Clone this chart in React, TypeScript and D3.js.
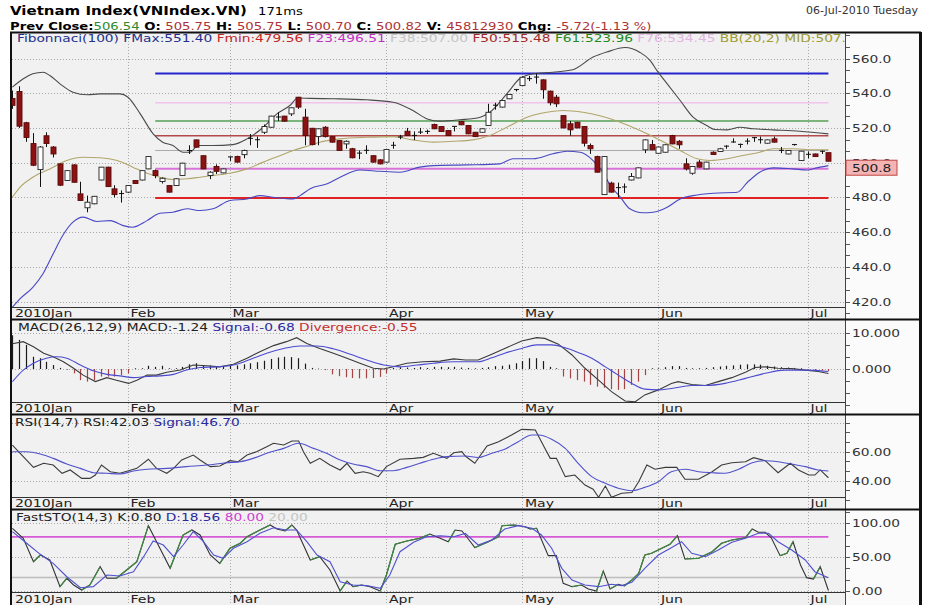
import React from "react";
import * as d3 from "d3";

const FONT = "'DejaVu Sans', Verdana, sans-serif";

// trading days, index 0 = first candle on the chart
const monthStart = [0, 17, 32, 55, 75, 95, 117];
const monthName = ["2010Jan", "Feb", "Mar", "Apr", "May", "Jun", "Jul"];

const open = [537, 541, 523, 511, 496, 515.5, 509, 499.3, 489.7, 498.7, 482, 474, 476.3, 490, 497.4, 484.9, 482.2, 483, 489.7, 490,
  496.4, 495.4, 489.1, 486.8, 486.8, 492.6, 506.8, 513.1, 504, 492.6, 497.8, 494.1, 503.1, 503.5, 504.6, 513.8, 513, 517.5, 520.4, 526,
  526.8, 528.1, 537.7, 526.2, 519.8, 515, 520.4, 515, 512.7, 510.8, 508, 505.3, 507, 504, 501.6, 500.3, 509.8, 514.6, 518.1, 515.5,
  517.4, 517.8, 522, 520.8, 518.5, 520.7, 523.7, 521.4, 517.5, 517.5, 521.4, 532.9, 532, 536.8, 541.9, 544.4, 548.2, 549.1, 547.7, 541.2,
  537.7, 527.1, 522.4, 523.3, 520.8, 509.9, 503.5, 481.6, 488.2, 485.4, 485.8, 490, 491.2, 507.4, 510.4, 505.4, 506, 515.6, 512.3, 499.3,
  493.9, 500.3, 496.4, 506, 506.4, 509.5, 511.7, 510.3, 512.2, 514.2, 513, 511.2, 513.7, 506.9, 505, 510.2, 501.2, 504.6, 505, 506.5, 505.75];
const high = [541.5, 544, 523.5, 517, 509.5, 517.5, 509.5, 499.5, 495.5, 499, 489, 481, 480.8, 497.5, 497.6, 487, 484, 487, 490, 495.6,
  503.7, 496, 491.5, 487, 490.9, 499.9, 510, 513.3, 504.2, 495, 499, 496.6, 503.5, 504, 507.5, 516.5, 515, 522, 527, 529,
  527, 531.8, 537.9, 531, 520, 519.7, 521, 515.2, 513, 512.8, 508.5, 507, 510, 504.3, 502, 508, 512, 516, 520, 518,
  520, 519, 522.5, 521, 518.7, 521, 524, 521.6, 517.7, 519.7, 533.9, 534.5, 536, 539.5, 542.5, 549.8, 550, 551.4, 548, 541.5,
  539, 527.3, 524, 523.5, 521, 511, 504, 503.7, 489, 488.5, 488, 494, 497.2, 513.5, 513, 509.2, 510.5, 516, 513, 502.5,
  498, 501.5, 500.5, 506.5, 508.5, 510, 514, 511, 514, 514.8, 515, 513.3, 515, 509, 507.2, 510.8, 506.8, 506.5, 505.2, 507, 505.75];
const low = [531, 520, 512, 498, 486, 509, 503, 486.5, 489.5, 488.5, 478, 471.4, 476, 489.8, 486, 480, 477, 482.5, 487.8, 489.8,
  496.2, 491, 488, 482.8, 486.6, 492.4, 505, 508.7, 496.2, 490.5, 493.5, 493.9, 501, 500, 502.5, 510, 508.5, 516.5, 520.2, 524,
  523.7, 526.9, 531, 510, 510, 510, 514.5, 511.5, 506.8, 508, 502.5, 502, 505, 500, 499, 500, 508, 513.5, 515.4, 513,
  516.5, 516.5, 519.3, 517.7, 515.4, 518, 521.6, 516.4, 514.8, 517.3, 521.2, 530.5, 531.8, 536.6, 541, 544.2, 547, 545.5, 536.8, 533,
  532, 519.8, 515.6, 519.8, 509.3, 505, 494.3, 481.4, 482.8, 480, 482.5, 489.8, 491, 505.5, 507.2, 505.2, 505.8, 510.6, 508, 495.5,
  493, 497.2, 496.2, 504.5, 506.2, 508, 511.5, 508.5, 510.5, 512, 511, 511, 511.6, 505.5, 504.8, 509.8, 501, 502.5, 503.3, 505, 500.7];
const close = [533, 521, 514.5, 498.5, 509, 511, 505, 487, 495.4, 488.7, 478.2, 477.2, 480.6, 497.4, 486.2, 481.6, 482, 486.8, 488, 495.4,
  503.5, 492.6, 491, 483, 490.7, 499.7, 507, 508.9, 496.4, 494.5, 495, 496.4, 503.3, 500.3, 507, 514, 513.2, 520.8, 526.8, 526.3,
  523.9, 531.6, 532, 515.6, 510.4, 519.5, 515, 511.8, 507, 512.3, 502.8, 505.5, 507.1, 500.3, 499.3, 507.6, 510, 514.8, 515.6, 515.7,
  517.6, 518, 519.5, 517.9, 515.6, 520.9, 521.8, 516.6, 515, 519.5, 529, 533.1, 535.8, 539.3, 542.1, 549.2, 548.4, 549.3, 542, 534.5,
  533.9, 520, 518.9, 520, 511.2, 508, 494.5, 503.5, 483, 485.6, 486, 492, 497, 513.1, 507.4, 509, 510.3, 510.8, 510.3, 496.4,
  497.8, 497.4, 500.3, 504.7, 508, 508.7, 511.9, 510.5, 512.4, 514.4, 513.2, 513.1, 511.8, 507.1, 507, 510.4, 506.6, 504.8, 503.5, 506.54, 500.82];

// Bollinger(20,2): [day, value]
const bbUpper = [[0, 543.5], [1.6, 548.3], [3, 551.2], [4.5, 552.1], [5.5, 550.2], [7, 545.4], [8.9, 540.6], [11, 539.1], [12.9, 539.6],
  [15.8, 539.6], [17, 537.7], [18.8, 528.1], [20.7, 516.6], [22.1, 511.8], [23.6, 509.9], [25.1, 506], [26.1, 506], [27.3, 509.9],
  [29.5, 509.9], [32.4, 510.4], [34.5, 513.7], [36.9, 520.4], [38.9, 528.1], [40.8, 532.9], [42, 537.2], [43.8, 537], [47.2, 536.8],
  [52.1, 536.2], [56, 534.8], [58.9, 530], [61, 525.2], [62.9, 523.9], [65.8, 524.7], [68.8, 526.2], [70.2, 529], [72.7, 539.6],
  [74.6, 548.3], [76.6, 551.2], [79.5, 552.1], [82.4, 553.5], [85.4, 560.8], [87.4, 563.7], [90.1, 566.3], [92.3, 563.5], [93.8, 558.8],
  [94.8, 553], [96.3, 545.4], [98.2, 535.8], [100.1, 526.2], [102.1, 521.4], [103.3, 519.1], [105.1, 518.9], [107, 520.4],
  [108.9, 519.5], [111.9, 518.9], [115.8, 518.1], [120, 516.6]];
const bbMid = [[0, 480.1], [1.1, 485.8], [3, 491.6], [5.5, 496.4], [8, 501.2], [10.4, 503.1], [12.9, 502.8], [15.4, 501.2], [17.7, 497.4],
  [19.8, 493.9], [21.7, 491.6], [23.6, 490.3], [25.7, 490.7], [27.6, 491.6], [29.5, 492.6], [32, 493.9], [34.5, 496.4], [36.9, 500.3],
  [39.4, 504.1], [41.3, 507], [43.8, 510], [45.2, 511.8], [48.2, 513.7], [52.1, 514.6], [56, 515], [58.9, 513.1], [61.9, 511.8],
  [64.8, 512.3], [67.7, 513.1], [70.2, 515.6], [72.7, 520.4], [75.7, 526.2], [78.6, 529], [81, 530], [83.9, 529], [86.4, 527],
  [89.4, 523.3], [92.3, 518.5], [95.2, 513.1], [98.2, 507], [100.7, 502.2], [102.6, 501.2], [105.1, 502.2], [107.4, 504.1],
  [109.9, 506], [111.9, 508], [114.8, 508], [117.7, 507.4], [120, 507.4]];
const bbLower = [[0, 416.7], [1.1, 421.5], [3, 428.2], [4.5, 436], [6, 447.5], [7.4, 458], [8.9, 465.7], [10.4, 468.6], [12.4, 466.1],
  [14.4, 466.6], [16.3, 463.7], [17.7, 462.8], [19.8, 466.6], [21.7, 470.8], [23.6, 471.4], [25.7, 473.4], [27.6, 472.4], [29.5, 473.4],
  [32, 478.2], [34.5, 479.1], [36.4, 481], [38.3, 480.1], [41.3, 479.1], [42.3, 481], [43.8, 485], [46.3, 487.8], [48.2, 491.6],
  [51.1, 495.8], [54.1, 495], [57, 494.5], [59.9, 497.4], [61.9, 498.3], [66.9, 498.7], [71.7, 499.3], [73.6, 502.2], [76.6, 502.2],
  [79.5, 505.1], [81.6, 506.6], [83.5, 506], [85.4, 501.2], [86.9, 494], [87.9, 487], [89.4, 480.1], [90.8, 473.4], [92.7, 471.1],
  [94.2, 471.4], [96.3, 474.3], [98.2, 479.1], [100.1, 481], [103.1, 482.4], [106.6, 482.9], [108.1, 488.7], [109.9, 494.5],
  [111.9, 497], [114.8, 496.4], [116.9, 495.8], [118.3, 497], [120, 498.3]];

// Fibonacci(100) levels
const fibKeys = ["FMax", "F76", "F61", "F50", "F38", "F23", "Fmin"];
const fibValues = [551.4, 534.45, 523.96, 515.48, 507.0, 496.51, 479.56];
const fibFirstDay = 21;

const macdLine = [[0, 7.0], [1.6, 7.6], [3.1, 6.2], [4.6, 4.4], [6, 3.4], [7.5, 2.0], [9, 0.2], [10.4, -1.7], [12.2, -3.5], [13.9, -2.4],
  [15.3, -3.1], [17.1, -4.0], [18.3, -3.1], [19.8, -1.7], [21.2, -1.7], [22.7, -0.9], [24.7, -0.3], [26.6, 1.1], [28.6, 0.9], [30.5, 0.6],
  [32.5, 1.3], [34.5, 3.0], [36.4, 4.8], [38.4, 6.5], [40.3, 7.6], [41.8, 8.7], [43.3, 7.1], [45.2, 5.7], [47.2, 4.4], [49.2, 3.0],
  [51.1, 1.6], [53.1, 0.2], [54.6, 0], [56, 0.6], [58, 1.6], [60.4, 2.0], [62.9, 2.2], [64.9, 2.8], [66.6, 2.5], [68.5, 2.5],
  [70.5, 4.1], [72.4, 5.7], [74.9, 7.8], [77.1, 8.7], [78.3, 8.5], [80.3, 6.9], [82.3, 3.9], [84.2, 0.2], [86.2, -3.1], [88.1, -6.3],
  [90.1, -8.9], [91.6, -9.1], [93, -7.2], [95, -5.8], [96.9, -4.0], [97.9, -3.5], [99.9, -4.3], [101.9, -4.6], [103.8, -3.5],
  [105.8, -2.4], [107.8, -0.9], [109.2, 0.4], [110.7, 0.6], [112.6, 0.2], [114.6, 0.1], [116.6, -0.3], [118.5, -0.7], [120, -1.24]];
const macdSignal = [[0, -3.5], [1.6, -0.3], [3.1, 1.6], [5, 3.0], [6.5, 3.4], [8, 3.0], [10, 1.1], [11.9, -0.5], [13.9, -1.5], [15.8, -1.9],
  [17.8, -2.4], [19.8, -2.1], [21.7, -1.9], [23.7, -1.5], [25.6, -0.3], [27.6, 0.4], [30, 0.6], [32.5, 1.1], [35.4, 3.0], [37.4, 4.4],
  [39.9, 5.7], [42.3, 6.4], [44.8, 6.4], [47.2, 5.6], [49.7, 4.1], [52.1, 2.5], [54.6, 1.1], [57, 0.6], [59.5, 1.1], [61.9, 1.6],
  [64.9, 2.0], [68.5, 2.0], [70.5, 3.1], [72.4, 4.4], [74.9, 5.7], [77.1, 6.7], [79.3, 6.7], [81.3, 5.9], [83.2, 4.6], [85.2, 3.0],
  [87.2, 0.6], [89.1, -1.7], [91.1, -4.0], [93, -5.6], [95, -5.8], [96.9, -5.4], [99.9, -4.6], [101.9, -4.6], [104.8, -4.0],
  [107.8, -2.6], [110.7, -1.2], [113.6, -0.3], [116.6, -0.3], [120, -0.68]];
const macdDiv = [9.4, 8.1, 6.7, 3.4, 3.0, 2.0, 1.1, 0.3, -0.2, -1.2, -3.1, -3.5, -3.1, -2.1, -2.1, -2.1, -1.7, -1.2, 0.2, 0.2,
  0.9, 0.6, 0.9, 0.2, 0.2, 0.6, 1.3, 1.6, 1.1, 1.0, 0.8, 0.8, 0.9, 1.0, 1.3, 1.6, 1.9, 2.3, 2.8, 3.2,
  3.4, 3.3, 3.0, 1.5, 0.3, 0.1, -0.3, -1.5, -2.0, -2.3, -2.5, -2.6, -2.6, -2.5, -2.2, -1.2, 0.3, 0.5, 0.4, 0.3,
  0.5, 0.3, 0.6, 0.6, 0.5, 0.6, 0.4, 0.3, 0.2, 0.3, 0.5, 0.8, 0.9, 1.2, 1.6, 2.2, 3.0, 3.0, 2.2, 0.6,
  0.2, -2.1, -2.6, -3.1, -3.5, -4.4, -4.9, -5.2, -5.6, -5.8, -5.6, -4.4, -3.5, -1.7, 0.2, 0.2, 0.5, 0.8, 0.8, 0.3,
  0.2, 0.2, 0.3, 0.5, 0.7, 0.9, 1.0, 1.2, 1.3, 1.3, 1.2, 0.9, 0.7, 0.5, 0.4, 0.3, 0.2, -0.2, -0.3, -0.4, -0.55];

const rsiLine = [[0, 64.6], [1.6, 56.6], [3.1, 49.2], [4.6, 52], [6, 50.8], [7.3, 45.1], [8.5, 47.4], [10.2, 41.6], [11.4, 41.6], [12.2, 43.9],
  [13.1, 50.8], [14.4, 46.2], [15.8, 45.1], [17.1, 46.9], [18.3, 48.5], [20, 54.8], [21.2, 48.5], [22.7, 45.1], [23.7, 48.5], [24.9, 54.3],
  [26.6, 57.7], [27.6, 54.3], [29.1, 49.7], [30.5, 50.1], [32, 53.8], [33.2, 53.1], [34.5, 57.7], [35.9, 60], [37.4, 63.4], [38.4, 65.8],
  [39.9, 64.6], [41.1, 67.4], [42.1, 67.4], [42.8, 60], [43.8, 52], [45.2, 55.4], [46.7, 50.8], [48.2, 47.4], [49.2, 52], [50.4, 45.1],
  [51.6, 46.2], [52.6, 45.1], [53.8, 42.8], [55, 49.7], [57, 54.8], [59, 55.4], [60.4, 56.1], [61.9, 58.9], [63.9, 55.4], [64.9, 59.3],
  [66.1, 60], [66.6, 57], [68, 52], [69.8, 63.9], [71.5, 66.9], [73.4, 71.5], [74.9, 75.4], [75.9, 75.2], [76.9, 75], [78.3, 62.3],
  [79.1, 55.4], [80, 55.4], [81.3, 42.8], [82.7, 43.9], [84.2, 37], [85.4, 34.1], [86.2, 28.6], [87.2, 36.3], [88.1, 28.6], [89.6, 31.3],
  [91.1, 31.9], [92.1, 39.3], [93.3, 50.8], [94.5, 47.9], [96, 49.2], [97.7, 49.2], [98.9, 41], [100.9, 41], [102.9, 46.2], [104.3, 50.8],
  [105.8, 52.4], [107.8, 53.1], [109, 55.9], [110.7, 53.8], [112.6, 45.5], [114.4, 52], [115.6, 47.4], [117.1, 43.9], [118, 43.9],
  [118.8, 47.4], [120, 42.03]];
const rsiSignal = [[0, 60], [2.1, 60], [4.1, 58.4], [6, 55.4], [8, 51.5], [10, 48.5], [11.9, 45.5], [13.9, 45.1], [15.8, 44.6], [17.8, 46.7],
  [19.8, 47.9], [22.7, 48.5], [25.6, 49.7], [28.6, 50.8], [31.5, 52.4], [33.5, 53.1], [35.4, 55.4], [37.4, 58.9], [39.9, 62.3], [42.1, 65.8],
  [44.3, 62.3], [46.2, 58.9], [48.2, 54.3], [50.1, 51.5], [52.1, 49.7], [54.1, 46.9], [56, 46.9], [58, 49.2], [59.9, 52], [61.9, 54.8],
  [63.9, 56.6], [66.6, 57], [68.5, 56], [70.5, 58.9], [72.4, 61.7], [74.4, 66.9], [76.4, 71.5], [77.4, 71.5], [79.3, 68.6], [81.3, 62.3],
  [83.2, 52], [85.2, 42.8], [87.2, 38.2], [89.1, 34.8], [91.1, 33.1], [93, 35.4], [95, 39.3], [96.9, 46.2], [98.9, 47.9], [100.9, 46.2],
  [102.9, 45.5], [104.8, 45.1], [106.8, 47.9], [108.8, 52.4], [110.7, 53.8], [112.6, 53.1], [114.6, 51.5], [116.6, 49.7], [118.5, 47.4],
  [120, 46.7]];

const stoK = [[0, 92.6], [1.6, 77.8], [3.1, 43.3], [4.1, 53.2], [5.5, 45.8], [7, 6.4], [8, 18.8], [9, 8.9], [10.2, 1.5], [11.4, 8.9],
  [12.9, 35.9], [13.9, 18.8], [15.3, 18.8], [16.8, 31], [18.3, 43.3], [20, 96.5], [21.2, 72.8], [23.2, 33.5], [25.1, 82.7], [26.4, 90.1],
  [27.6, 82.7], [29.1, 53.2], [30.5, 40.9], [32, 63.1], [33.5, 70.5], [34.5, 80.2], [36.4, 90.1], [37.9, 97.5], [38.9, 91.6], [40.1, 88.6],
  [41.1, 97.5], [41.8, 90.1], [42.8, 67.9], [43.8, 45.8], [45.2, 50.7], [46.7, 31], [48.2, 0], [49.2, 14.8], [50.1, 6.4], [51.4, 8.9],
  [52.6, 6.4], [54.1, 0], [55, 23.6], [56.3, 69], [58, 73.9], [59.9, 77.8], [61.4, 84.2], [62.9, 77.8], [64.1, 72.8], [65.1, 90.1],
  [66.1, 88.6], [66.6, 82.7], [68, 64], [70, 72.8], [71.5, 80.2], [72, 96.5], [73.9, 97.5], [75.4, 95], [76.1, 91.6], [77.1, 92.6],
  [78.8, 52.2], [80, 52.2], [81, 11.4], [82.3, 6.4], [83.7, 8.9], [84.7, 3], [85.9, 0], [86.9, 29.5], [87.9, 3], [89.1, 9.9],
  [90, 7.4], [91.1, 16.2], [92.1, 26.1], [93, 53.2], [94, 55.7], [95.5, 63.1], [96.7, 69], [97.8, 81.7], [98.9, 47.3], [100.9, 48.3],
  [102.9, 58], [104.3, 70.5], [105.8, 75.3], [107.8, 78.7], [108.8, 91.6], [109.7, 86.7], [110.7, 86.7], [111.6, 78.7], [112.9, 52.2],
  [113.9, 55.7], [114.8, 72.8], [115.9, 38.4], [116.8, 19.7], [117.8, 17.7], [118.8, 35.9], [120, 0.8]];
const stoD = [[0, 87.6], [2.1, 70.5], [4.1, 54.2], [6, 40.9], [8, 21.1], [10, 4.9], [11.9, 6.4], [13.9, 23.6], [15.8, 22.2], [17.8, 28.5],
  [19.3, 50.7], [20.7, 73.9], [22.2, 67.9], [23.7, 50.7], [25.1, 67.9], [26.6, 87.6], [28.1, 72.8], [29.6, 53.2], [31, 48.3], [32.5, 63.1],
  [34.5, 72.8], [36.4, 85.2], [38.4, 93.5], [40.3, 90.1], [41.8, 90.1], [43.3, 72.8], [44.8, 53.2], [46.7, 43.3], [48.2, 13.7], [50.1, 8.9],
  [52.1, 8], [54.1, 4], [55.5, 23.6], [57, 58], [59, 71.9], [60.9, 80.2], [62.9, 81.7], [64.9, 80.2], [66.6, 85], [68.5, 67.9],
  [70.5, 75.3], [72.4, 91.6], [74.4, 96.5], [76.4, 92.6], [77.8, 82.7], [79.3, 63.1], [80.8, 33.5], [82.3, 16.2], [84.2, 8.9], [86.2, 6.4],
  [88.1, 9.9], [89.6, 8], [91.1, 12.8], [93, 33.5], [95, 53.2], [96.9, 64], [98.4, 72.8], [99.9, 55.7], [101.9, 50.7], [103.8, 60.6],
  [105.8, 71.9], [107.8, 77.8], [109.7, 85.2], [111.2, 85.2], [112.6, 72.8], [114.6, 60.6], [116.6, 45.8], [118, 28.5], [120, 19.7]];

// lettering in the picture is stretched sideways
function Txt({ x, y, sx = 1.2, size = 11, weight = "normal", fill = "#000", anchor = "start", children }: any) {
  return (
    <text transform={`translate(${x},${y}) scale(${sx},1)`} fontFamily={FONT} fontSize={size}
      fontWeight={weight} fill={fill} textAnchor={anchor}>{children}</text>
  );
}

const PX0 = 12, PX1 = 845, FRAME_R = 920;
const LEG = "scale(1.25,1)";

export default function App() {
  const x = d3.scaleLinear().domain([0, 120]).range([12.4, 828.4]);

  const main = { top: 32, axisY: 307, bottom: 319 };
  const macdP = { top: 319, axisY: 402, bottom: 414 };
  const rsiP = { top: 414, axisY: 497, bottom: 509 };
  const stoP = { top: 509, axisY: 592, bottom: 605 };

  const yMain = d3.scaleLinear().domain([420, 560]).range([301.5, 58.5]);
  const yMacd = d3.scaleLinear().domain([0, 10]).range([369, 333]);
  const yRsi = d3.scaleLinear().domain([40, 60]).range([480.7, 451.7]);
  const ySto = d3.scaleLinear().domain([0, 100]).range([591, 523.3]);

  const path = (ys: any, curve: any = d3.curveLinear) =>
    d3.line<number[]>().x(d => x(d[0])).y(d => ys(d[1])).curve(curve);

  const dotted = { stroke: "#a9a9a9", strokeWidth: 1, strokeDasharray: "1,2" };

  function frame(p: any, id: string, yScale: any, grid: number[], majors: number[], minorStep: number,
    fmt: (v: number) => string, lo: number, hi: number) {
    const minors = d3.range(lo, hi + 0.001, minorStep);
    return (
      <g>
        <rect x={PX0} y={p.top} width={PX1 - PX0} height={p.bottom - p.top} fill="#f1f1f1" />
        <rect x={PX1} y={p.top} width={FRAME_R - PX1} height={p.bottom - p.top} fill="#fbfbfb" />
        <clipPath id={id}><rect x={PX0} y={p.top + 1} width={PX1 - PX0} height={p.axisY - p.top - 1} /></clipPath>
        {grid.map(v => (
          <line key={"g" + v} x1={PX0} x2={PX1} y1={Math.round(yScale(v)) + 0.5} y2={Math.round(yScale(v)) + 0.5} {...dotted} />
        ))}
        {monthStart.slice(1).map(m => (
          <line key={"m" + m} x1={Math.round(x(m)) + 0.5} x2={Math.round(x(m)) + 0.5} y1={p.top} y2={p.bottom} {...dotted} />
        ))}
        <line x1={PX0} x2={PX1} y1={p.axisY + 0.5} y2={p.axisY + 0.5} stroke="#333" strokeWidth={1} />
        {monthStart.map((m, k) => (
          <Txt key={"ml" + m} x={x(m) + 2.5} y={p.bottom - 2} sx={1.28} size={11} fill="#222">{monthName[k]}</Txt>
        ))}
        {minors.filter(v => yScale(v) > p.top + 2 && yScale(v) < p.bottom - 2).map(v => (
          <line key={"t" + v} x1={PX1} x2={PX1 + 5} y1={Math.round(yScale(v)) + 0.5} y2={Math.round(yScale(v)) + 0.5}
            stroke="#555" strokeWidth={1} />
        ))}
        {majors.map(v => (
          <Txt key={"l" + v} x={PX1 + 7} y={yScale(v) + 4} sx={1.25} size={11} fill="#333">{fmt(v)}</Txt>
        ))}
        <line x1={PX1 + 0.5} x2={PX1 + 0.5} y1={p.top} y2={p.bottom} stroke="#444" strokeWidth={1} />
      </g>
    );
  }

  const fibColor: any = {
    FMax: "#2424cc", F76: "#f0c4ec", F61: "#55a055", F50: "#b24a4a", F38: "#a9a9a9", F23: "#d874d8", Fmin: "#e02222",
  };
  const fibWidth: any = { FMax: 2, F76: 1.5, F61: 1.5, F50: 1.5, F38: 1, F23: 2, Fmin: 2 };

  const lastClose = close[close.length - 1];

  // STO %K drawn green on rising legs
  const kUp = stoK.slice(1).map((d, i) => ({ a: stoK[i], b: d })).filter(s => s.b[1] > s.a[1]);

  return (
    <svg width={929} height={605} style={{ position: "absolute", left: 0, top: 0, display: "block", background: "#fff" }}>
      {/* header */}
      <Txt x={10} y={15} sx={1.25} size={12} weight="bold">Vietnam Index(VNIndex.VN)</Txt>
      <Txt x={258} y={15} sx={1.2} size={11}>171ms</Txt>
      <Txt x={918} y={14} sx={1.0} size={11} anchor="end" fill="#333">06-Jul-2010 Tuesday</Txt>
      <text transform="translate(10,30) scale(1.2,1)" fontFamily={FONT} fontSize={11}>
        <tspan fontWeight="bold">Prev Close:</tspan><tspan fill="#2f8a2f">506.54</tspan>
        <tspan fontWeight="bold"> O: </tspan><tspan fill="#ad3535">505.75</tspan>
        <tspan fontWeight="bold"> H: </tspan><tspan fill="#ad3535">505.75</tspan>
        <tspan fontWeight="bold"> L: </tspan><tspan fill="#ad3535">500.70</tspan>
        <tspan fontWeight="bold"> C: </tspan><tspan fill="#ad3535">500.82</tspan>
        <tspan fontWeight="bold"> V: </tspan><tspan fill="#ad3535">45812930</tspan>
        <tspan fontWeight="bold"> Chg: </tspan><tspan fill="#ad3535">-5.72(-1.13 %)</tspan>
      </text>

      {/* price panel */}
      {frame(main, "cMain", yMain, d3.range(420, 561, 20), d3.range(420, 561, 20), 20 / 3, d3.format(".1f"), 413.33, 573.33)}
      <g clipPath="url(#cMain)">
        {fibKeys.map((k, i) => (
          <line key={k} x1={x(fibFirstDay)} x2={x(120)} y1={yMain(fibValues[i])} y2={yMain(fibValues[i])}
            stroke={fibColor[k]} strokeWidth={fibWidth[k]} />
        ))}
        <path d={path(yMain, d3.curveMonotoneX)(bbUpper as any) || ""} fill="none" stroke="#4a4a4a" strokeWidth={1.1} />
        <path d={path(yMain, d3.curveMonotoneX)(bbMid as any) || ""} fill="none" stroke="#b0a66a" strokeWidth={1.1} />
        <path d={path(yMain, d3.curveMonotoneX)(bbLower as any) || ""} fill="none" stroke="#4848c4" strokeWidth={1.1} />
        {open.map((o, i) => {
          const c = close[i];
          const cx = Math.round(x(i)) + 0.5;
          const yt = yMain(Math.max(o, c)), yb = yMain(Math.min(o, c));
          const up = c >= o;
          const h = Math.max(yb - yt, 1);
          return (
            <g key={i}>
              <line x1={cx} x2={cx} y1={yMain(high[i])} y2={yMain(low[i])} stroke="#111" strokeWidth={1} />
              {h < 1.5
                ? <line x1={cx - 2.5} x2={cx + 2.5} y1={yt} y2={yt} stroke="#111" strokeWidth={1} />
                : <rect x={cx - 2.5} y={yt} width={5} height={h} fill={up ? "#ffffff" : "#8a1212"}
                  stroke={up ? "#222" : "#5a0a0a"} strokeWidth={0.9} />}
            </g>
          );
        })}
        <text transform={`translate(17,42) ${LEG}`} fontFamily={FONT} fontSize={11}>
          <tspan fill="#23318c">Fibonnaci(100) FMax:551.40 </tspan>
          <tspan fill="#c22626">Fmin:479.56 </tspan>
          <tspan fill="#c232c2">F23:496.51 </tspan>
          <tspan fill="#c4c4c4">F38:507.00 </tspan>
          <tspan fill="#a32a2a">F50:515.48 </tspan>
          <tspan fill="#238a23">F61:523.96 </tspan>
          <tspan fill="#e2b4e2">F76:534.45 </tspan>
          <tspan fill="#9e9e30">BB(20,2) MID:507.4</tspan>
        </text>
      </g>
      <rect x={PX1 + 1} y={yMain(lastClose) - 1} width={51} height={15} fill="#f4b4b4" stroke="#c04646" strokeWidth={1} />
      <Txt x={PX1 + 7} y={yMain(lastClose) + 11} sx={1.25} size={11} fill="#222">{lastClose.toFixed(1)}</Txt>

      {/* MACD */}
      {frame(macdP, "cMacd", yMacd, [10, 0], [10, 0], 10 / 3, d3.format(".3f"), -10, 13.34)}
      <g clipPath="url(#cMacd)">
        {macdDiv.map((v, i) => (
          <line key={i} x1={Math.round(x(i)) + 0.5} x2={Math.round(x(i)) + 0.5} y1={yMacd(0)} y2={yMacd(v)}
            stroke={v >= 0 ? "#1a1a1a" : "#a64444"} strokeWidth={1.2} />
        ))}
        <path d={path(yMacd)(macdLine as any) || ""} fill="none" stroke="#3a3a3a" strokeWidth={1.1} />
        <path d={path(yMacd, d3.curveMonotoneX)(macdSignal as any) || ""} fill="none" stroke="#4a4ad0" strokeWidth={1.1} />
        <text transform={`translate(18,331) ${LEG}`} fontFamily={FONT} fontSize={11}>
          <tspan fill="#222">MACD(26,12,9) MACD:-1.24 </tspan>
          <tspan fill="#2a2aa0">Signal:-0.68 </tspan>
          <tspan fill="#c23030">Divergence:-0.55</tspan>
        </text>
      </g>

      {/* RSI */}
      {frame(rsiP, "cRsi", yRsi, [80, 60, 40], [60, 40], 20 / 3, d3.format(".2f"), 20, 86.67)}
      <g clipPath="url(#cRsi)">
        <path d={path(yRsi)(rsiLine as any) || ""} fill="none" stroke="#3a3a3a" strokeWidth={1.1} />
        <path d={path(yRsi, d3.curveMonotoneX)(rsiSignal as any) || ""} fill="none" stroke="#5050cc" strokeWidth={1.1} />
        <text transform={`translate(15,426) ${LEG}`} fontFamily={FONT} fontSize={11}>
          <tspan fill="#222">RSI(14,7) RSI:42.03 </tspan>
          <tspan fill="#2a2aa0">Signal:46.70</tspan>
        </text>
      </g>

      {/* Fast stochastic */}
      {frame(stoP, "cSto", ySto, [100, 50, 0], [100, 50, 0], 50 / 3, d3.format(".2f"), 0, 116.67)}
      <g clipPath="url(#cSto)">
        <line x1={PX0} x2={x(120)} y1={ySto(80)} y2={ySto(80)} stroke="#d65ad6" strokeWidth={1.6} />
        <line x1={PX0} x2={x(120)} y1={ySto(20)} y2={ySto(20)} stroke="#bdbdbd" strokeWidth={1.4} />
        <path d={path(ySto)(stoK as any) || ""} fill="none" stroke="#333" strokeWidth={1.1} />
        {kUp.map((s, i) => (
          <line key={i} x1={x(s.a[0])} y1={ySto(s.a[1])} x2={x(s.b[0])} y2={ySto(s.b[1])} stroke="#3f8a3f" strokeWidth={1.2} />
        ))}
        <path d={path(ySto)(stoD as any) || ""} fill="none" stroke="#5050d0" strokeWidth={1.1} />
        <text transform={`translate(16,521) ${LEG}`} fontFamily={FONT} fontSize={11}>
          <tspan fill="#222">FastSTO(14,3) K:0.80 </tspan>
          <tspan fill="#2a2aa0">D:18.56 </tspan>
          <tspan fill="#d040d0">80.00 </tspan>
          <tspan fill="#c4c4c4">20.00</tspan>
        </text>
      </g>

      {/* outer frame and panel separators */}
      {[main.top, macdP.top, rsiP.top, stoP.top].map(t => (
        <line key={t} x1={10} x2={FRAME_R + 1} y1={t + 0.5} y2={t + 0.5} stroke="#111" strokeWidth={2} />
      ))}
      <line x1={11} x2={11} y1={main.top} y2={605} stroke="#111" strokeWidth={2} />
      <line x1={FRAME_R + 0.5} x2={FRAME_R + 0.5} y1={main.top} y2={605} stroke="#111" strokeWidth={3} />
    </svg>
  );
}
